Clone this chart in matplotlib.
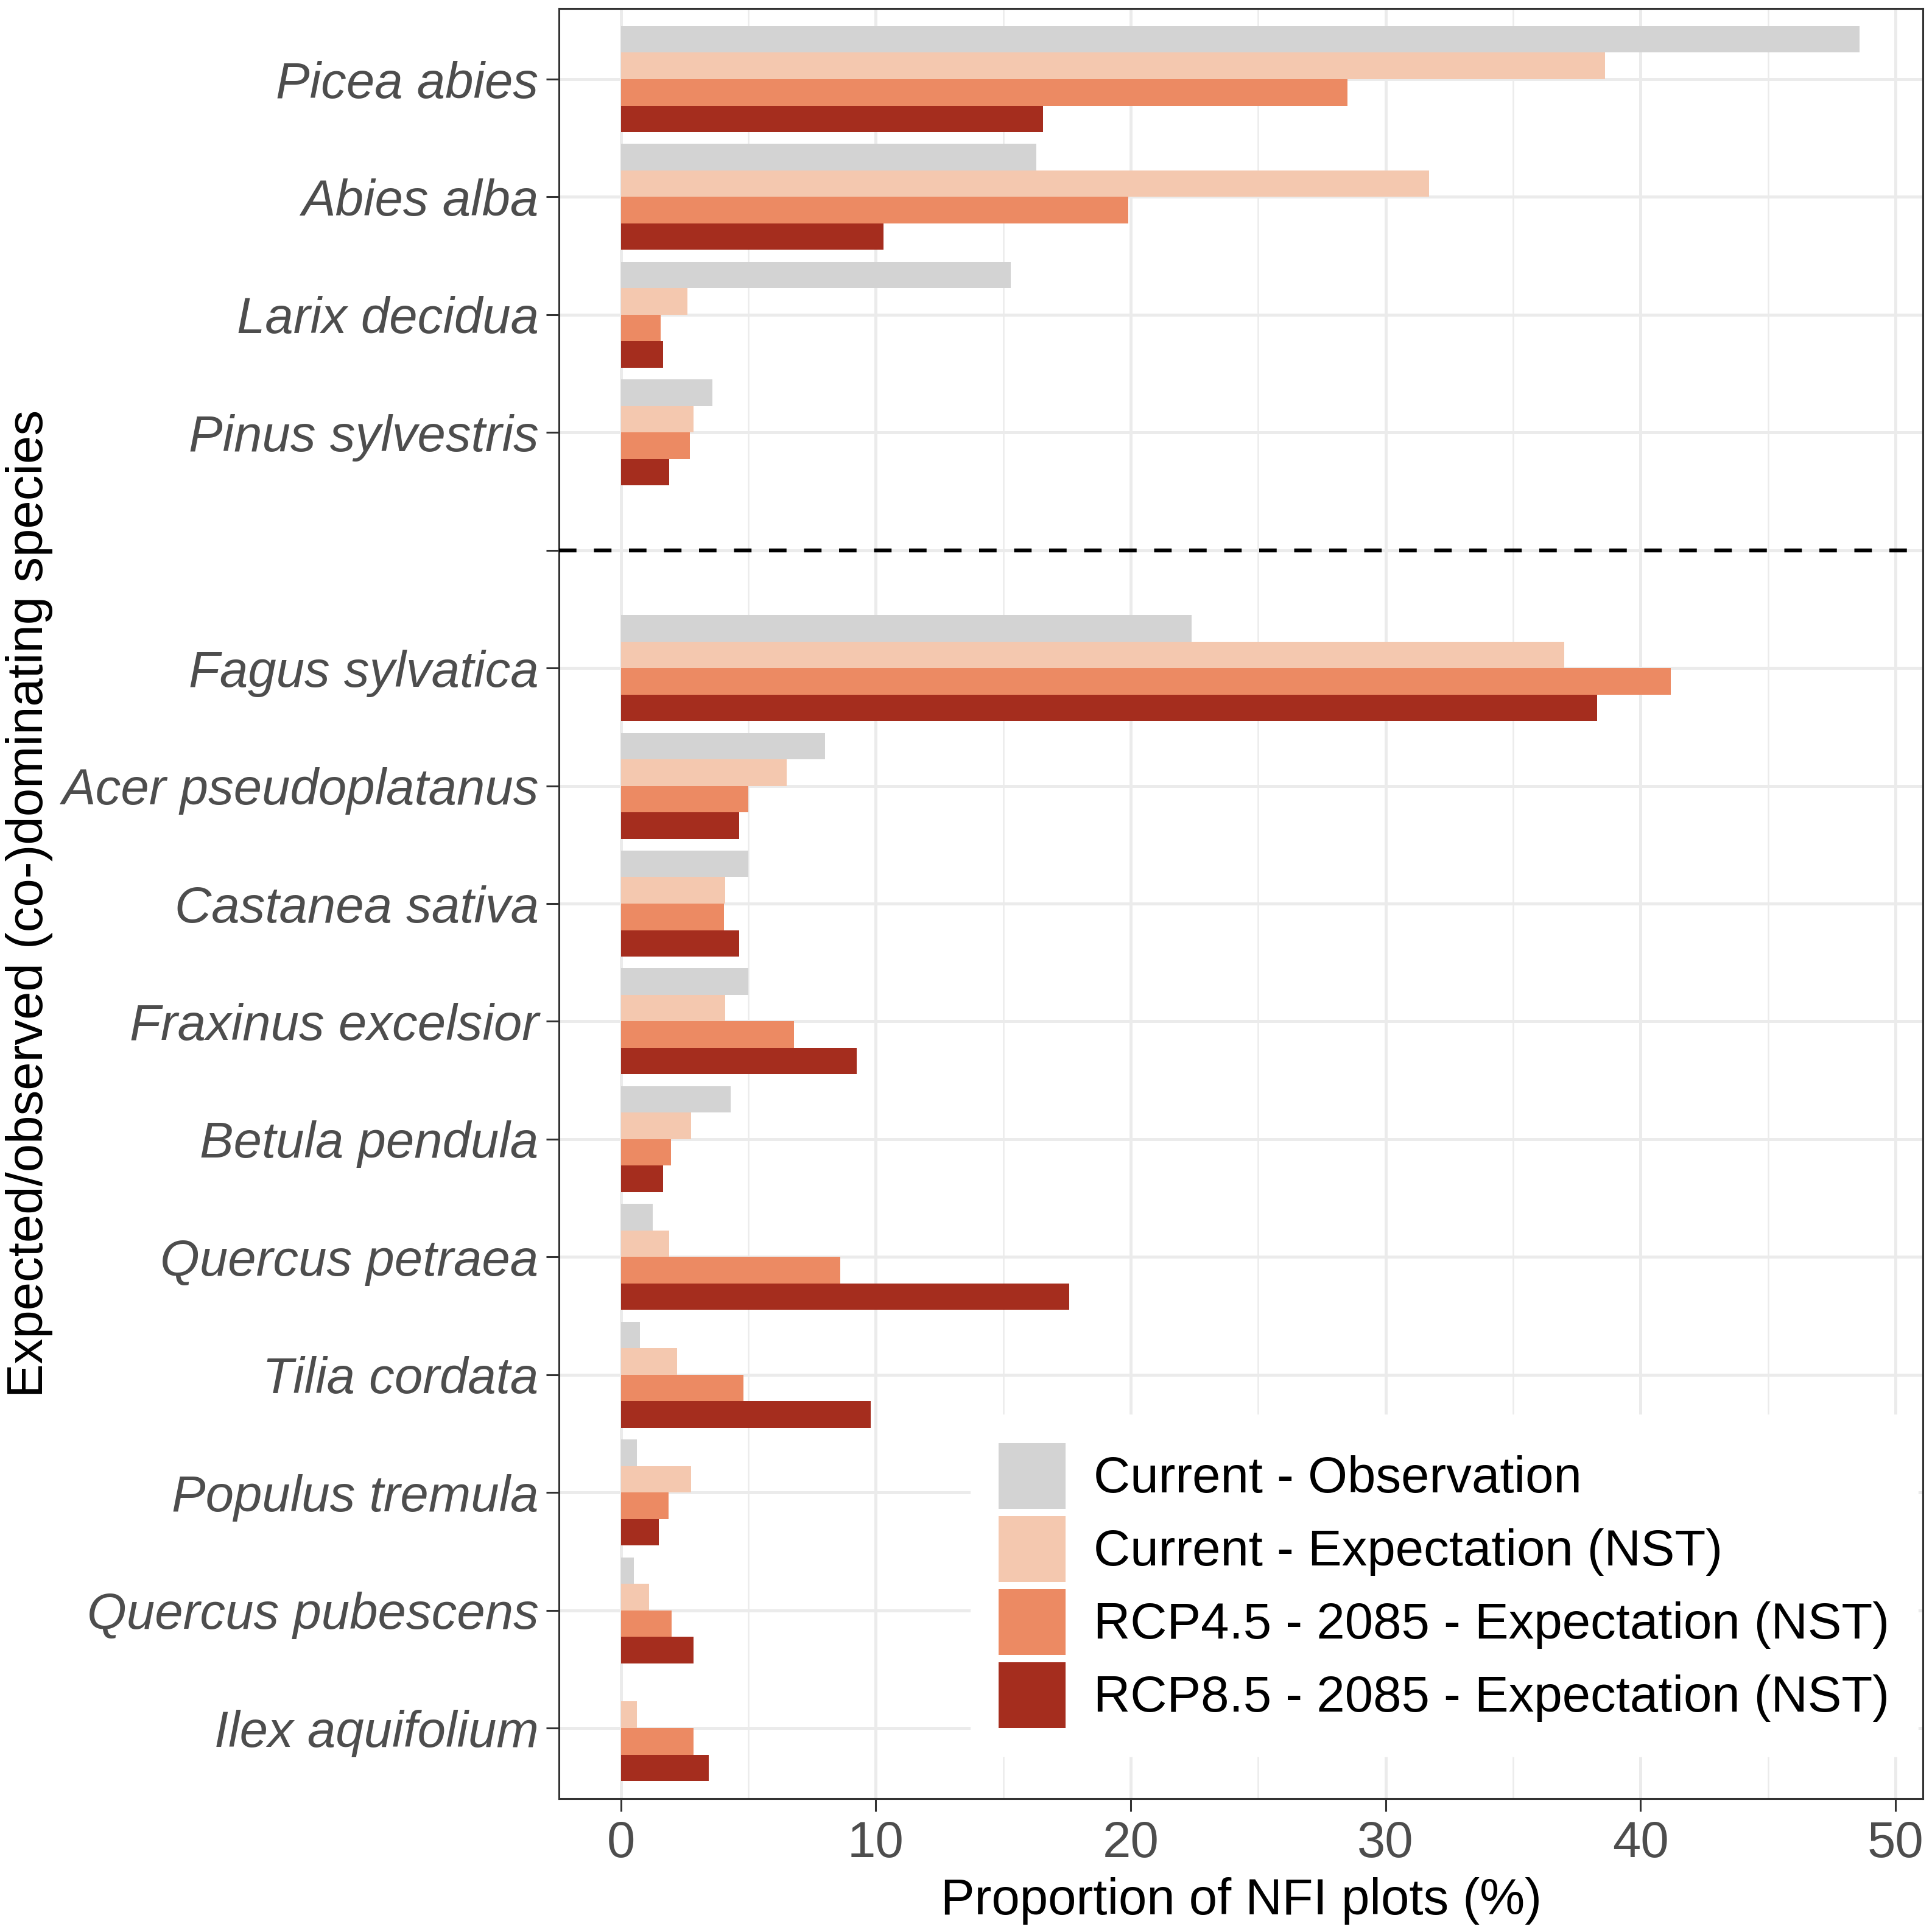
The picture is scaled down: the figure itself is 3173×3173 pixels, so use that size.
import matplotlib
matplotlib.use("Agg")
import matplotlib.pyplot as plt
import numpy as np

# ----------------------------
# Data
# ----------------------------
species = [
    "Picea abies", "Abies alba", "Larix decidua", "Pinus sylvestris", "",
    "Fagus sylvatica", "Acer pseudoplatanus", "Castanea sativa",
    "Fraxinus excelsior", "Betula pendula", "Quercus petraea",
    "Tilia cordata", "Populus tremula", "Quercus pubescens", "Ilex aquifolium",
]

scenarios = [
    "Current - Observation",
    "Current - Expectation (NST)",
    "RCP4.5 - 2085 - Expectation (NST)",
    "RCP8.5 - 2085 - Expectation (NST)",
]

# None marks the empty slot between conifers and broadleaves
current_obs = [48.6, 16.3, 15.3, 3.6, None, 22.4, 8.0, 5.0, 5.0, 4.3, 1.25, 0.76, 0.62, 0.52, 0.0]
current_nst = [38.6, 31.7, 2.6, 2.85, None, 37.0, 6.5, 4.1, 4.1, 2.75, 1.9, 2.2, 2.75, 1.1, 0.62]
rcp45_nst   = [28.5, 19.9, 1.55, 2.7, None, 41.2, 5.0, 4.05, 6.8, 1.97, 8.6, 4.8, 1.87, 2.0, 2.85]
rcp85_nst   = [16.55, 10.3, 1.65, 1.9, None, 38.3, 4.65, 4.65, 9.25, 1.66, 17.6, 9.8, 1.5, 2.85, 3.45]

series = [current_obs, current_nst, rcp45_nst, rcp85_nst]
colors = ["#D3D3D3", "#F4C8AF", "#EC8A63", "#A52D1E"]

# ----------------------------
# Plot styling
# ----------------------------
plt.rcParams.update(
    {
        "font.family": ["Liberation Sans", "DejaVu Sans"],
        "font.size": 30,
    }
)

fig = plt.figure(figsize=(15.865, 15.865), dpi=200)
ax = fig.add_axes([0.2893, 0.0690, 0.7060, 0.9266])

pos = np.arange(len(species))
bar_h = 0.9 / 4
for i, (vals, col, lab) in enumerate(zip(series, colors, scenarios)):
    v = np.array([np.nan if x is None else x for x in vals], dtype=float)
    offs = -0.45 + bar_h * (i + 0.5)
    ax.barh(pos + offs, np.nan_to_num(v), height=bar_h, color=col, label=lab,
            zorder=3, linewidth=0)

# separator between conifers and broadleaves
ax.axhline(4, color="black", linewidth=2.3, linestyle=(0, (4.5, 4.5)), zorder=4,
           clip_on=False)

ax.set_ylim(len(species) - 0.4, -0.6)
ax.set_xlim(-2.43, 51.08)
ax.set_yticks(pos)
ax.set_yticklabels(species, fontstyle="italic", color="#4D4D4D", fontsize=30)
ax.set_xticks([0, 10, 20, 30, 40, 50])
ax.set_xticks([5, 15, 25, 35, 45], minor=True)
ax.tick_params(axis="x", labelsize=30, labelcolor="#4D4D4D", length=7.5,
               width=1.1, color="#333333", pad=5)
ax.tick_params(axis="y", length=7.5, width=1.1, color="#333333", pad=4.5)
ax.tick_params(axis="x", which="minor", length=0)

ax.grid(True, which="major", color="#EBEBEB", linewidth=1.8, zorder=0)
ax.grid(True, which="minor", axis="x", color="#EBEBEB", linewidth=0.9, zorder=0)
ax.set_axisbelow(True)
for s in ax.spines.values():
    s.set_color("#333333")
    s.set_linewidth(1.1)

ax.set_xlabel("Proportion of NFI plots (%)", fontsize=30, labelpad=6)
ax.set_ylabel("Expected/observed (co-)dominating species", fontsize=30, labelpad=5)

leg = ax.legend(
    loc="lower right",
    bbox_to_anchor=(0.996, 0.024),
    borderaxespad=0,
    frameon=True,
    fancybox=False,
    facecolor="white",
    edgecolor="white",
    framealpha=1,
    fontsize=30,
    handlelength=1.32,
    handleheight=1.62,
    handletextpad=0.55,
    labelspacing=0.14,
    borderpad=0.55,
)
leg.set_zorder(5)

fig.savefig("out.png", dpi=200)
